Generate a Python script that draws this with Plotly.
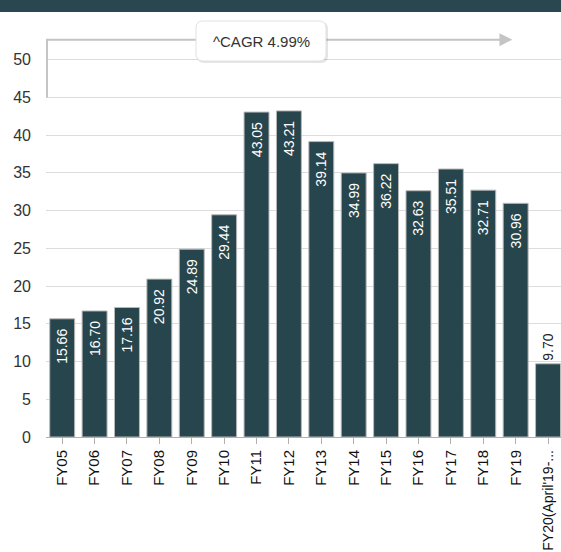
import plotly.graph_objects as go

categories = ["FY05", "FY06", "FY07", "FY08", "FY09", "FY10", "FY11", "FY12",
              "FY13", "FY14", "FY15", "FY16", "FY17", "FY18", "FY19", "FY20(April'19-..."]
values = [15.66, 16.70, 17.16, 20.92, 24.89, 29.44, 43.05, 43.21,
          39.14, 34.99, 36.22, 32.63, 35.51, 32.71, 30.96, 9.70]
y_ticks = [0, 5, 10, 15, 20, 25, 30, 35, 40, 45, 50]
cagr_label = "^CAGR 4.99%"

BAR = "#27454c"
FONT = "Arial, Liberation Sans, sans-serif"

n = len(values)
labels = [f"{v:.2f}\u2002" if i < n - 1 else f"{v:.2f}" for i, v in enumerate(values)]
positions = ["inside"] * (n - 1) + ["outside"]
text_colors = ["white"] * (n - 1) + ["#222222"]
tick_text = categories[:-1] + [f'<span style="font-size:14px">{categories[-1]}</span>']

fig = go.Figure(go.Bar(
    x=list(range(n)), y=values,
    marker=dict(color=BAR, line=dict(color="#b8b8b8", width=1)),
    text=labels, textposition=positions, textangle=-90,
    insidetextanchor="end",
    textfont=dict(family=FONT, size=14, color=text_colors),
    cliponaxis=False,
))

W, H = 561, 552
L, R, T, B = 46, 0, 37, 115
pw, ph = W - L - R, H - T - B
ymax = 53

def px_x(p):
    return (p - L) / pw

def px_y(p):
    return (H - B - p) / ph

# top dark band
fig.add_shape(type="rect", xref="paper", yref="paper",
              x0=px_x(0), x1=px_x(W), y0=px_y(12), y1=px_y(-2),
              fillcolor="#2a4650", line=dict(width=0), layer="above")

# bracket line
arrow_y = 52.65
fig.add_shape(type="path", xref="x", yref="y",
              path=f"M -0.47,45 L -0.47,{arrow_y} L 13.6,{arrow_y}",
              line=dict(color="#c4c4c4", width=2), layer="above")
fig.add_annotation(x=13.9, y=arrow_y, ax=13.5, ay=arrow_y, axref="x", ayref="y",
                   xref="x", yref="y", text="", showarrow=True,
                   arrowhead=2, arrowsize=1.3, arrowwidth=2, arrowcolor="#c4c4c4")

# CAGR box (rounded, with soft shadow)
def rrect(x0, x1, y0, y1, r=7):
    rx, ry = r / pw, r / ph
    return (f"M {x0+rx},{y0} L {x1-rx},{y0} Q {x1},{y0} {x1},{y0+ry} "
            f"L {x1},{y1-ry} Q {x1},{y1} {x1-rx},{y1} L {x0+rx},{y1} "
            f"Q {x0},{y1} {x0},{y1-ry} L {x0},{y0+ry} Q {x0},{y0} {x0+rx},{y0} Z")

bx0, bx1, by0, by1 = px_x(196), px_x(326), px_y(61), px_y(21)
fig.add_shape(type="path", xref="paper", yref="paper",
              path=rrect(bx0 + 1 / pw, bx1 + 2 / pw, by0 - 2 / ph, by1 - 1 / ph),
              fillcolor="rgba(0,0,0,0.10)", line=dict(width=0), layer="above")
fig.add_shape(type="path", xref="paper", yref="paper",
              path=rrect(bx0, bx1, by0, by1),
              fillcolor="white", line=dict(color="#e2e2e2", width=1), layer="above")
fig.add_annotation(xref="paper", yref="paper", x=(bx0 + bx1) / 2, y=(by0 + by1) / 2,
                   xanchor="center", yanchor="middle",
                   text=cagr_label, showarrow=False,
                   font=dict(family=FONT, size=15, color="#333333"))

fig.update_layout(
    width=W, height=H,
    margin=dict(l=L, r=R, t=T, b=B, pad=0, autoexpand=False),
    paper_bgcolor="white", plot_bgcolor="white",
    showlegend=False, bargap=0.23,
    font=dict(family=FONT, color="#222222"),
    xaxis=dict(
        range=[-0.5, 15.4], tickmode="array",
        tickvals=list(range(n)), ticktext=tick_text,
        tickangle=-90, tickfont=dict(family=FONT, size=15, color="#111111"),
        showgrid=False, showline=True, linecolor="#b0b0b0", linewidth=1,
        ticks="outside", ticklen=6, tickcolor="#b0b0b0", tickson="boundaries",
        zeroline=False, automargin=False,
    ),
    yaxis=dict(
        range=[0, ymax], tickmode="array", tickvals=y_ticks,
        tickfont=dict(family=FONT, size=16, color="#333333"),
        showgrid=True, gridcolor="#dcdcdc", gridwidth=1,
        showline=False, zeroline=False, ticks="", ticklabelstandoff=14,
        automargin=False,
    ),
    uniformtext=dict(minsize=14, mode="show"),
)

post = (
    "document.body.style.margin='0';"
    "document.body.style.overflow='hidden';"
    "var d=document.getElementById('{plot_id}');"
    "d.style.position='fixed';d.style.left='0px';d.style.top='0px';"
    "window.scrollTo(0,0);"
)
fig.write_html("out.html", post_script=post, config={"displayModeBar": False})
